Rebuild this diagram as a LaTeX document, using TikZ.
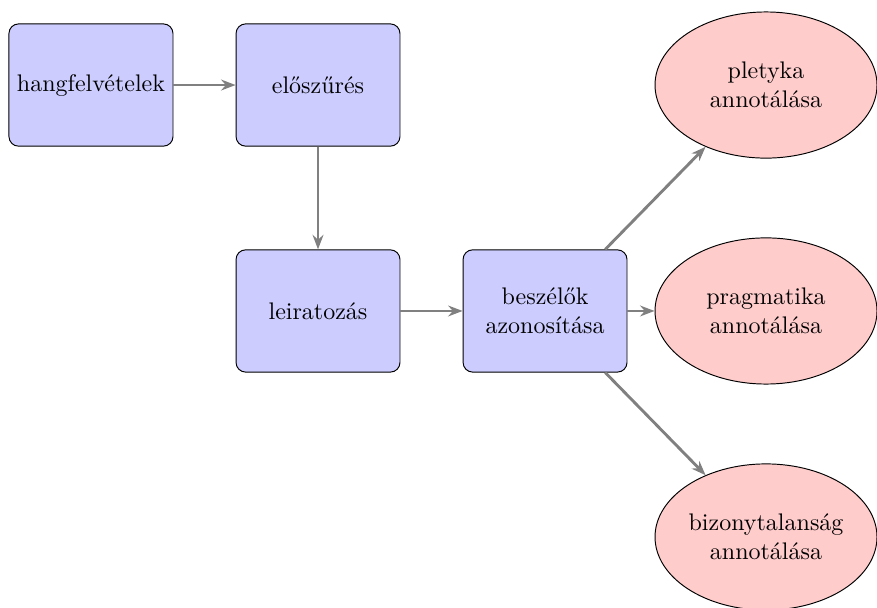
\documentclass[tikz,border=0pt]{standalone}
\usepackage{fontspec}
\usepackage{tikz}
\usetikzlibrary{shapes.geometric,arrows.meta}
\tikzset{
  >={Stealth[length=6pt]},
}
\tikzstyle{folyamat}=[draw,fill=blue!20,rounded corners,align=center,minimum width=2.4cm,minimum height=1.79cm]
\tikzstyle{annot}=[draw,fill=red!20,ellipse,align=center,inner sep=0pt,minimum width=3.25cm,minimum height=2.14cm]
\tikzstyle{nyil}=[very thick,->,gray]

\begin{document}
\begin{tikzpicture}
      \useasboundingbox (0,0) rectangle (12.84,-8.9);
      \node[folyamat] (hang) at (1.332,-1.245) {hangfelvételek};
      \node[folyamat] (szur) at (4.656,-1.245) {előszűrés};
      \node[folyamat] (leir) at (4.656,-4.553) {leiratozás};
      \node[folyamat] (besz) at (7.98,-4.553) {beszélők\\azonosítása};
      \node[annot] (plety) at (11.215,-1.245) {pletyka\\annotálása};
      \node[annot] (prag) at (11.215,-4.553) {pragmatika\\annotálása};
      \node[annot] (bizony) at (11.215,-7.862) {bizonytalanság\\annotálása};
      \draw[nyil] (hang)--(szur);
      \draw[nyil] (szur)--(leir);
      \draw[nyil] (leir)--(besz);
      \draw[nyil] (besz)--(plety);
      \draw[nyil] (besz)--(prag);
      \draw[nyil] (besz)--(bizony);
    \end{tikzpicture}
\end{document}
